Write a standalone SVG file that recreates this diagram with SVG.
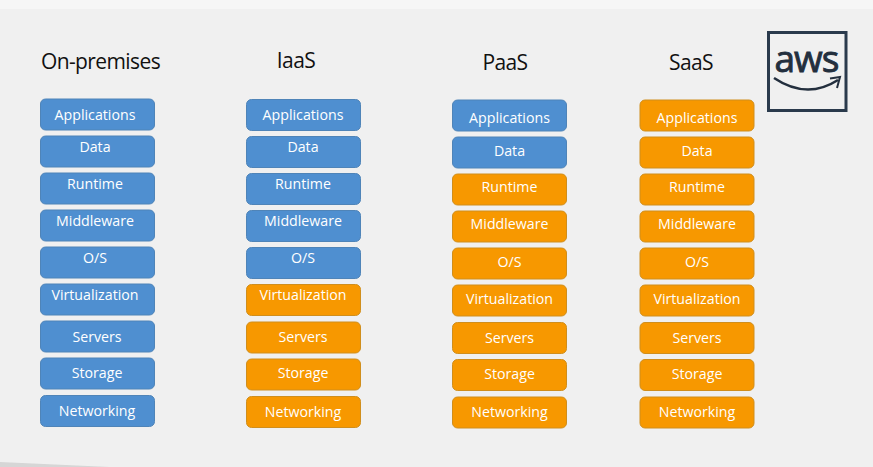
<svg xmlns="http://www.w3.org/2000/svg" width="873" height="467" viewBox="0 0 873 467">
<style>
text{font-family:"Open Sans","Noto Sans","Liberation Sans",sans-serif}
.h{font-size:21px;fill:#111;text-anchor:middle;letter-spacing:-.6px}
.l{font-size:14.2px;fill:#fff;text-anchor:middle}
.b{fill:#4f8fd0;stroke:#4f84b8;stroke-width:1}
.o{fill:#f79800;stroke:#d08e1c;stroke-width:1}
</style>
<defs>
<rect id="box" width="114" height="31" rx="5"/>
</defs>
<rect width="873" height="467" fill="#f0f0f0"/>
<rect width="873" height="9" fill="#f6f6f6"/>
<path d="M0 462L110 467H0Z" fill="#d6d6d6"/>
<g id="headers">
<text class="h" x="100.500" y="69">On-premises</text>
<text class="h" x="296" y="68">IaaS</text>
<text class="h" x="505" y="70">PaaS</text>
<text class="h" x="691" y="70">SaaS</text>
</g>
<g id="aws-logo">
<rect x="768.500" y="32.500" width="77.500" height="78" fill="none" stroke="#2a3a4c" stroke-width="3"/>
<text x="806.500" y="72" font-size="37" fill="#232f3e" stroke="#232f3e" stroke-width=".9" text-anchor="middle" letter-spacing="-1">aws</text>
<path d="M774 78Q807 100 838 80" fill="none" stroke="#232f3e" stroke-width="2.500"/>
<path d="M830 78.500L840 77L837 88" fill="none" stroke="#232f3e" stroke-width="2"/>
</g>
<g id="col1">
<g id="c1-applications"><use href="#box" class="b" x="40.500" y="99"/><text class="l" x="95" y="120">Applications</text></g>
<g id="c1-data"><use href="#box" class="b" x="40.500" y="136"/><text class="l" x="95" y="152">Data</text></g>
<g id="c1-runtime"><use href="#box" class="b" x="40.500" y="173"/><text class="l" x="95" y="189">Runtime</text></g>
<g id="c1-middleware"><use href="#box" class="b" x="40.500" y="210"/><text class="l" x="95" y="226">Middleware</text></g>
<g id="c1-os"><use href="#box" class="b" x="40.500" y="247"/><text class="l" x="95" y="263">O/S</text></g>
<g id="c1-virtualization"><use href="#box" class="b" x="40.500" y="284"/><text class="l" x="95" y="300">Virtualization</text></g>
<g id="c1-servers"><use href="#box" class="b" x="40.500" y="321"/><text class="l" x="97" y="342">Servers</text></g>
<g id="c1-storage"><use href="#box" class="b" x="40.500" y="358"/><text class="l" x="97" y="378">Storage</text></g>
<g id="c1-networking"><use href="#box" class="b" x="40.500" y="395.500"/><text class="l" x="97" y="416">Networking</text></g>
</g>
<g id="col2">
<g id="c2-applications"><use href="#box" class="b" x="246.500" y="99.500"/><text class="l" x="303" y="120">Applications</text></g>
<g id="c2-data"><use href="#box" class="b" x="246.500" y="136.500"/><text class="l" x="303" y="152">Data</text></g>
<g id="c2-runtime"><use href="#box" class="b" x="246.500" y="173.500"/><text class="l" x="303" y="189">Runtime</text></g>
<g id="c2-middleware"><use href="#box" class="b" x="246.500" y="210.500"/><text class="l" x="303" y="226">Middleware</text></g>
<g id="c2-os"><use href="#box" class="b" x="246.500" y="247.500"/><text class="l" x="303" y="263">O/S</text></g>
<g id="c2-virtualization"><use href="#box" class="o" x="246.500" y="284.500"/><text class="l" x="303" y="300">Virtualization</text></g>
<g id="c2-servers"><use href="#box" class="o" x="246.500" y="322"/><text class="l" x="303" y="342">Servers</text></g>
<g id="c2-storage"><use href="#box" class="o" x="246.500" y="359"/><text class="l" x="303" y="378">Storage</text></g>
<g id="c2-networking"><use href="#box" class="o" x="246.500" y="396.500"/><text class="l" x="303" y="417">Networking</text></g>
</g>
<g id="col3">
<g id="c3-applications"><use href="#box" class="b" x="452.500" y="100"/><text class="l" x="509.500" y="123">Applications</text></g>
<g id="c3-data"><use href="#box" class="b" x="452.500" y="137"/><text class="l" x="509.500" y="156">Data</text></g>
<g id="c3-runtime"><use href="#box" class="o" x="452.500" y="174"/><text class="l" x="509.500" y="192">Runtime</text></g>
<g id="c3-middleware"><use href="#box" class="o" x="452.500" y="211"/><text class="l" x="509.500" y="229">Middleware</text></g>
<g id="c3-os"><use href="#box" class="o" x="452.500" y="248"/><text class="l" x="509.500" y="267">O/S</text></g>
<g id="c3-virtualization"><use href="#box" class="o" x="452.500" y="285"/><text class="l" x="509.500" y="304">Virtualization</text></g>
<g id="c3-servers"><use href="#box" class="o" x="452.500" y="322.500"/><text class="l" x="509.500" y="343">Servers</text></g>
<g id="c3-storage"><use href="#box" class="o" x="452.500" y="359.500"/><text class="l" x="509.500" y="379">Storage</text></g>
<g id="c3-networking"><use href="#box" class="o" x="452.500" y="397"/><text class="l" x="509.500" y="417">Networking</text></g>
</g>
<g id="col4">
<g id="c4-applications"><use href="#box" class="o" x="640" y="100"/><text class="l" x="697" y="123">Applications</text></g>
<g id="c4-data"><use href="#box" class="o" x="640" y="137"/><text class="l" x="697" y="156">Data</text></g>
<g id="c4-runtime"><use href="#box" class="o" x="640" y="174"/><text class="l" x="697" y="192">Runtime</text></g>
<g id="c4-middleware"><use href="#box" class="o" x="640" y="211"/><text class="l" x="697" y="229">Middleware</text></g>
<g id="c4-os"><use href="#box" class="o" x="640" y="248"/><text class="l" x="697" y="267">O/S</text></g>
<g id="c4-virtualization"><use href="#box" class="o" x="640" y="285"/><text class="l" x="697" y="304">Virtualization</text></g>
<g id="c4-servers"><use href="#box" class="o" x="640" y="322.500"/><text class="l" x="697" y="343">Servers</text></g>
<g id="c4-storage"><use href="#box" class="o" x="640" y="359.500"/><text class="l" x="697" y="379">Storage</text></g>
<g id="c4-networking"><use href="#box" class="o" x="640" y="397"/><text class="l" x="697" y="417">Networking</text></g>
</g>
</svg>
